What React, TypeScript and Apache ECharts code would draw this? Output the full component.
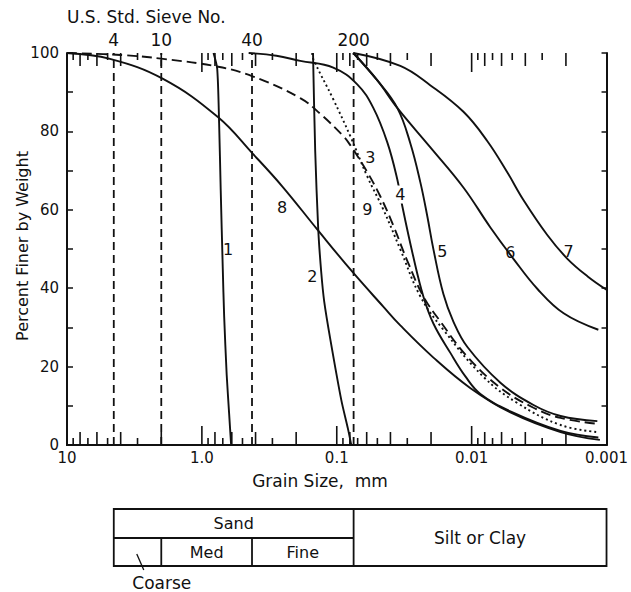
import React, { useEffect, useRef } from 'react';
import * as echarts from 'echarts';

// ---------- data ----------
const xTickValues = [10, 1, 0.1, 0.01, 0.001];
const xTickLabels = ['10', '1.0', '0.1', '0.01', '0.001'];

const sieveNumbers = ['4', '10', '40', '200'];
const sieveSizes = [4.5, 2.0, 0.425, 0.075];

// grain size (mm), percent finer
const curve1 = [[0.82, 100], [0.77, 96], [0.745, 82], [0.725, 65], [0.70, 45], [0.684, 33], [0.655, 18], [0.628, 8], [0.607, 0]];
const curve2 = [[0.15, 100], [0.1445, 75], [0.1372, 55], [0.1303, 44], [0.1238, 36.5], [0.1117, 27], [0.0926, 11.5], [0.0822, 3.8], [0.0781, 0]];
const curve3 = [[10, 100], [4, 99.5], [1.94, 98.5], [0.757, 96.5], [0.4167, 94], [0.1866, 88.5], [0.1327, 84.5], [0.0895, 78.8], [0.0794, 76.5], [0.0594, 69.6], [0.0475, 63.4], [0.0381, 56], [0.030, 47], [0.0228, 37.9], [0.01705, 31.5], [0.01075, 22.5], [0.00612, 14.6], [0.00348, 9.5], [0.00219, 6.9], [0.00117, 5.4]];
const curve4 = [[0.45, 100], [0.28, 99.3], [0.1866, 98], [0.1062, 96.3], [0.0705, 92], [0.0536, 86], [0.0422, 77.2], [0.0356, 67.8], [0.03265, 60.9], [0.02706, 48], [0.0228, 37.9], [0.01922, 31], [0.01438, 23.5], [0.01113, 17.5], [0.00861, 13.0], [0.00516, 8.6], [0.00219, 3.6], [0.00115, 1.9]];
const curve5 = [[0.0754, 100], [0.05, 93], [0.0356, 86], [0.0285, 77], [0.024, 67], [0.0213, 58.3], [0.0192, 49.9], [0.0162, 38.5], [0.01366, 31.5], [0.01075, 25], [0.00612, 15.9], [0.00348, 10.2], [0.00219, 7.4], [0.00117, 6.1]];
const curve6 = [[0.0754, 100], [0.05, 93], [0.0356, 86], [0.0203, 76], [0.01151, 65.7], [0.00726, 55.5], [0.0049, 47.5], [0.00325, 39.8], [0.00208, 33.6], [0.00115, 29.4]];
const curve7 = [[0.0754, 100], [0.0338, 96.7], [0.0203, 91.8], [0.0115, 85], [0.00764, 77.5], [0.00543, 69.5], [0.00413, 62.5], [0.00274, 53.5], [0.00195, 47.5], [0.00138, 43], [0.001, 39.6]];
const curve8 = [[10, 100], [4.8, 98.5], [1.94, 93.4], [0.757, 83.6], [0.4167, 74.2], [0.2538, 66], [0.1396, 55], [0.0767, 44.2], [0.0452, 35.3], [0.0338, 30.5], [0.0192, 22.3], [0.0102, 14.5], [0.00516, 8.3], [0.00219, 3.3], [0.00112, 1.3]];
const curve9 = [[0.152, 100], [0.1495, 98.5], [0.1062, 88.2], [0.0794, 78.8], [0.0594, 68.5], [0.0452, 60.1], [0.0338, 49.9], [0.024, 37.9], [0.0162, 29.4], [0.00818, 17.4], [0.00458, 10.7], [0.00219, 5.1], [0.00117, 3.3]];

const curveNames = ['1', '2', '3', '4', '5', '6', '7', '8', '9'];
const curveLabelX = [0.638, 0.152, 0.0564, 0.0338, 0.01648, 0.00516, 0.00191, 0.2538, 0.0594];
const curveLabelY = [49.9, 43, 73.4, 63.9, 49.4, 49.1, 49.4, 60.6, 60.1];
const curveLabelMasked = [false, false, false, true, false, false, false, false, false];

const tickDecades = [1, 0.1, 0.01, 0.001];
const tickMultipliers = [2, 3, 4, 5, 6, 7, 8, 9];
const majorTicks = [1, 0.1, 0.01];

const tableEdges = [4.5, 2.0, 0.425, 0.075, 0.001];
const tableTexts = ['Sand', 'Med', 'Fine', 'Silt or Clay', 'Coarse'];

const FONT = 'DejaVu Sans';
const INK = '#111';

export default function App() {
  const ref = useRef<HTMLDivElement>(null);
  useEffect(() => {
    if (!ref.current) return;
    const chart = echarts.init(ref.current, undefined, { renderer: 'svg' });

    const ticks: number[][] = [];
    tickDecades.forEach((b) => tickMultipliers.forEach((m) => ticks.push([m * b, m % 2 === 0 ? 1 : 0])));
    majorTicks.forEach((v) => ticks.push([v, 2]));

    const curves = [curve1, curve2, curve3, curve4, curve5, curve6, curve7, curve8, curve9];
    const curveSeries = curves.map((c, i) => ({
      type: 'line',
      name: 'curve' + curveNames[i],
      data: c,
      showSymbol: false,
      smooth: i === 0 || i === 1 ? 0.25 : 0.4,
      lineStyle: {
        color: INK,
        width: 1.9,
        type: i === 2 ? [10, 5] : i === 8 ? [2, 3] : 'solid',
      },
      silent: true,
      z: 3,
    }));

    const sieveSeries = sieveSizes.map((s, i) => ({
      type: 'line',
      name: 'sieve' + sieveNumbers[i],
      data: [[s, 0], [s, 100]],
      showSymbol: false,
      lineStyle: { color: INK, width: 1.8, type: [8, 5] },
      silent: true,
      z: 2,
    }));

    const textStyle = (size: number) => ({ fontFamily: FONT, fontSize: size, fill: INK });

    chart.setOption({
      animation: false,
      backgroundColor: '#fff',
      grid: { left: 67, right: 24, top: 53, bottom: 147, containLabel: false },
      xAxis: [
        {
          type: 'log',
          logBase: 10,
          min: 0.001,
          max: 10,
          inverse: true,
          position: 'bottom',
          axisLine: { show: true, lineStyle: { color: INK, width: 2 } },
          axisTick: { show: false },
          splitLine: { show: false },
          axisLabel: {
            margin: 5,
            color: INK,
            fontFamily: FONT,
            fontSize: 15,
            showMinLabel: true,
            showMaxLabel: true,
            hideOverlap: false,
            formatter: (v: number) => {
              const i = xTickValues.findIndex((t) => Math.abs(Math.log10(t) - Math.log10(v)) < 0.01);
              return i >= 0 ? xTickLabels[i] : '';
            },
          },
        },
        {
          type: 'log',
          logBase: 10,
          min: 0.001,
          max: 10,
          inverse: true,
          position: 'top',
          axisLine: { show: true, lineStyle: { color: INK, width: 2 } },
          axisTick: { show: false },
          axisLabel: { show: false },
          splitLine: { show: false },
        },
      ],
      yAxis: [
        {
          type: 'value',
          min: 0,
          max: 100,
          interval: 10,
          position: 'left',
          axisLine: { show: true, lineStyle: { color: INK, width: 2 } },
          axisTick: { show: true, inside: true, length: 6, lineStyle: { color: INK, width: 1.5 } },
          splitLine: { show: false },
          axisLabel: {
            margin: 8,
            color: INK,
            fontFamily: FONT,
            fontSize: 15,
            formatter: (v: number) => (v % 20 === 0 ? String(v) : ''),
          },
        },
        {
          type: 'value',
          min: 0,
          max: 100,
          interval: 10,
          position: 'right',
          axisLine: { show: true, lineStyle: { color: INK, width: 2 } },
          axisTick: { show: true, inside: true, length: 5, lineStyle: { color: INK, width: 1.5 } },
          splitLine: { show: false },
          axisLabel: { show: false },
        },
      ],
      graphic: [
        { type: 'text', x: 67, y: 17, style: { ...textStyle(17), text: 'U.S. Std. Sieve No.', align: 'left', verticalAlign: 'middle' } },
        { type: 'text', x: 320, y: 481, style: { ...textStyle(17), text: 'Grain Size,  mm', align: 'center', verticalAlign: 'middle' } },
        { type: 'text', x: 22, y: 246, rotation: Math.PI / 2, style: { ...textStyle(16), text: 'Percent Finer by Weight', align: 'center', verticalAlign: 'middle' } },
      ],
      series: [
        ...sieveSeries,
        ...curveSeries,
        {
          type: 'custom',
          name: 'logTicks',
          data: ticks,
          silent: true,
          z: 4,
          renderItem: (params: any, api: any) => {
            const v = api.value(0);
            const kind = api.value(1);
            const b = api.coord([v, 0]);
            const t = api.coord([v, 100]);
            const len = kind === 2 ? 19 : kind === 1 ? 13 : 7;
            const st = { stroke: INK, lineWidth: 1.6 };
            return {
              type: 'group',
              children: [
                { type: 'line', shape: { x1: b[0], y1: b[1], x2: b[0], y2: b[1] - len }, style: st },
                { type: 'line', shape: { x1: t[0], y1: t[1], x2: t[0], y2: t[1] + len }, style: st },
              ],
            };
          },
        },
        {
          type: 'custom',
          name: 'curveLabels',
          data: curveLabelX.map((x, i) => [x, curveLabelY[i]]),
          silent: true,
          z: 5,
          renderItem: (params: any, api: any) => {
            const p = api.coord([api.value(0), api.value(1)]);
            const i = params.dataIndex;
            return {
              type: 'text',
              x: p[0],
              y: p[1],
              style: {
                ...textStyle(16),
                text: curveNames[i],
                align: 'center',
                verticalAlign: 'middle',
                backgroundColor: curveLabelMasked[i] ? '#fff' : undefined,
                padding: curveLabelMasked[i] ? [1, 1] : 0,
              },
            };
          },
        },
        {
          type: 'custom',
          name: 'sieveLabels',
          data: sieveSizes.map((s) => [s, 100]),
          silent: true,
          z: 5,
          renderItem: (params: any, api: any) => {
            const p = api.coord([api.value(0), api.value(1)]);
            return {
              type: 'text',
              x: p[0],
              y: p[1] - 13,
              style: { ...textStyle(17), text: sieveNumbers[params.dataIndex], align: 'center', verticalAlign: 'middle' },
            };
          },
        },
        {
          type: 'custom',
          name: 'soilTable',
          data: [[1, 50]],
          silent: true,
          z: 5,
          renderItem: (params: any, api: any) => {
            const xs = tableEdges.map((e) => api.coord([e, 0])[0]);
            const base = api.coord([1, 0])[1];
            const top = base + 64;
            const mid = top + 29;
            const bot = top + 57;
            const st = { stroke: INK, lineWidth: 1.8, fill: null };
            const ts = textStyle(16);
            return {
              type: 'group',
              children: [
                { type: 'rect', shape: { x: xs[0], y: top, width: xs[4] - xs[0], height: bot - top }, style: { stroke: INK, lineWidth: 1.8, fill: 'none' } },
                { type: 'line', shape: { x1: xs[0], y1: mid, x2: xs[3], y2: mid }, style: st },
                { type: 'line', shape: { x1: xs[3], y1: top, x2: xs[3], y2: bot }, style: st },
                { type: 'line', shape: { x1: xs[1], y1: mid, x2: xs[1], y2: bot }, style: st },
                { type: 'line', shape: { x1: xs[2], y1: mid, x2: xs[2], y2: bot }, style: st },
                { type: 'text', x: (xs[0] + xs[3]) / 2, y: (top + mid) / 2, style: { ...ts, text: tableTexts[0], align: 'center', verticalAlign: 'middle' } },
                { type: 'text', x: (xs[1] + xs[2]) / 2, y: (mid + bot) / 2, style: { ...ts, text: tableTexts[1], align: 'center', verticalAlign: 'middle' } },
                { type: 'text', x: (xs[2] + xs[3]) / 2, y: (mid + bot) / 2, style: { ...ts, text: tableTexts[2], align: 'center', verticalAlign: 'middle' } },
                { type: 'text', x: (xs[3] + xs[4]) / 2, y: mid, style: { ...textStyle(17), text: tableTexts[3], align: 'center', verticalAlign: 'middle' } },
                { type: 'line', shape: { x1: xs[0] + 23, y1: mid + 16, x2: xs[0] + 30, y2: bot + 4 }, style: { stroke: INK, lineWidth: 1.3 } },
                { type: 'text', x: xs[0] + 48, y: bot + 17, style: { ...textStyle(17), text: tableTexts[4], align: 'center', verticalAlign: 'middle' } },
              ],
            };
          },
        },
      ],
    });
    return () => chart.dispose();
  }, []);
  return <div ref={ref} style={{ position: 'fixed', left: 0, top: 0, width: 631, height: 592, background: '#fff' }} />;
}
